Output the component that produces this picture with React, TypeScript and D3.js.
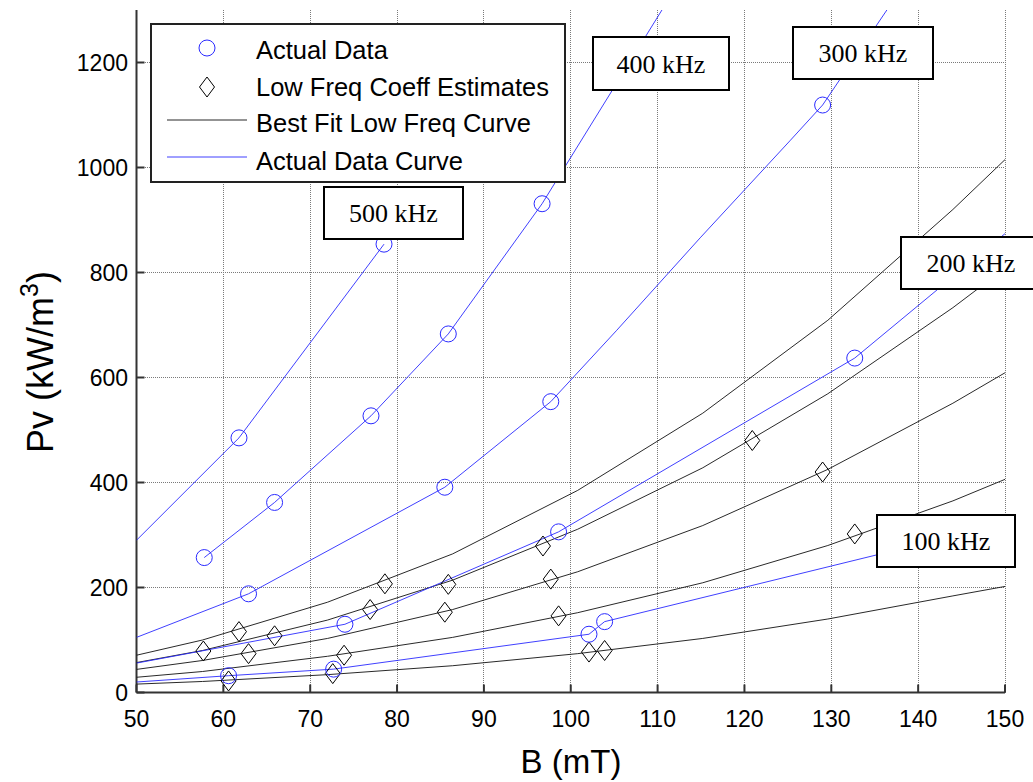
import React from 'react';
import * as d3 from 'd3';

// ---- data ----
const xTicks = [50, 60, 70, 80, 90, 100, 110, 120, 130, 140, 150];
const yTicks = [0, 200, 400, 600, 800, 1000, 1200];

// Best fit low-frequency curves (black), sampled B values
const fitB = [50, 57.6, 72, 86.4, 100.8, 115.2, 129.6, 144, 150];
const fit500 = [71, 100, 172, 264, 385, 532, 709, 920, 1015];
const fit400 = [57, 80, 138, 214, 311, 428, 569, 733, 808];
const fit300 = [44, 61, 103, 158, 230, 318, 425, 551, 609];
const fit200 = [29, 40, 69, 105, 152, 209, 280, 365, 406];
const fit100 = [16, 21, 34, 51, 74, 103, 140, 184, 202];

// Actual data curves (blue)
const act500B = [50, 61.8, 78.5];
const act500P = [290, 485, 854];
const act400B = [57.8, 65.9, 77.0, 85.9, 96.7, 110.5];
const act400P = [257, 362, 527, 683, 931, 1300];
const act300B = [50, 62.9, 85.5, 97.7, 105.3, 114.9, 125.3, 129.0, 136.4];
const act300P = [105, 188, 391, 554, 690, 866, 1052, 1119, 1300];
const act200B = [50, 74.0, 98.6, 132.7, 150];
const act200P = [56, 130, 306, 637, 874];
const act100B = [50, 60.6, 72.7, 102.1, 103.9, 135.2, 150];
const act100P = [20, 32, 44.5, 111, 135, 262, 322];

// Actual data points (circles)
const circB = [61.8, 78.5, 57.8, 65.9, 77.0, 85.9, 96.7, 62.9, 85.5, 97.7, 129.0, 74.0, 98.6, 132.7, 60.6, 72.7, 102.1, 103.9];
const circP = [485, 854, 257, 362, 527, 683, 931, 188, 391, 554, 1119, 130, 306, 637, 32, 44.5, 111, 135];

// Low freq coefficient estimates (diamonds)
const diaB = [57.7, 61.8, 62.9, 65.9, 60.6, 73.9, 72.6, 78.6, 76.9, 85.9, 85.5, 96.8, 97.7, 98.6, 102.1, 103.9, 120.9, 129.0, 132.7];
const diaP = [79, 116, 74, 108, 22, 71, 36, 207, 158, 206, 153, 279, 216, 146, 77, 80, 480, 420, 302];

const freqLabels = ['500 kHz', '400 kHz', '300 kHz', '200 kHz', '100 kHz'];
const legendLabels = ['Actual Data', 'Low Freq Coeff Estimates', 'Best Fit Low Freq Curve', 'Actual Data Curve'];

// ---- layout ----
const W = 1033, H = 782;
const X0 = 136.5, X1 = 1005, Y0 = 692.5, YT = 10;
const labelBoxes = [
  { x: 324, y: 187, w: 139, h: 52 },
  { x: 593, y: 37, w: 136, h: 53 },
  { x: 793, y: 27, w: 140, h: 52 },
  { x: 901, y: 237, w: 140, h: 52 },
  { x: 877, y: 515, w: 138, h: 52 },
];

const BLUE = '#2a2aff';

export default function App() {
  const x = d3.scaleLinear().domain([50, 150]).range([X0, X1]);
  const y = d3.scaleLinear().domain([0, 1300]).range([Y0, YT]);
  const line = d3.line<[number, number]>().x(d => x(d[0])).y(d => y(d[1]));
  const zip = (a: number[], b: number[]) => a.map((v, i) => [v, b[i]] as [number, number]);
  const snap = (v: number) => Math.round(v - 0.5) + 0.5;

  const fits = [fit500, fit400, fit300, fit200, fit100].map(p => zip(fitB, p));
  const acts = [
    zip(act500B, act500P), zip(act400B, act400P), zip(act300B, act300P),
    zip(act200B, act200P), zip(act100B, act100P),
  ];
  const sans = 'Arial, "Liberation Sans", Helvetica, sans-serif';
  const serif = '"Times New Roman", "Liberation Serif", Times, serif';

  const diamond = (cx: number, cy: number) =>
    `M${cx},${cy - 10}L${cx + 7.5},${cy}L${cx},${cy + 10}L${cx - 7.5},${cy}Z`;

  return (
    <svg width={W} height={H} style={{ position: 'absolute', left: 0, top: 0, background: '#fff' }}>
      <defs>
        <clipPath id="plotclip">
          <rect x={X0} y={YT} width={X1 - X0} height={Y0 - YT} />
        </clipPath>
      </defs>
      <rect x={0} y={0} width={W} height={H} fill="#fff" />
      {/* grid */}
      <g stroke="#7a7a7a" strokeWidth={1} strokeDasharray="1,1" shapeRendering="crispEdges">
        {xTicks.slice(1).map(t => (
          <line key={'gx' + t} x1={snap(x(t))} x2={snap(x(t))} y1={YT} y2={Y0} />
        ))}
        {yTicks.slice(1).map(t => (
          <line key={'gy' + t} x1={X0} x2={X1} y1={snap(y(t))} y2={snap(y(t))} />
        ))}
      </g>
      {/* axes */}
      <g stroke="#333" strokeWidth={2}>
        <line x1={X0} x2={X0} y1={YT} y2={Y0} />
        <line x1={X0} x2={X1} y1={Y0} y2={Y0} />
        {xTicks.map(t => (
          <line key={'tx' + t} x1={x(t)} x2={x(t)} y1={Y0} y2={Y0 - 8} />
        ))}
        {yTicks.map(t => (
          <line key={'ty' + t} x1={X0} x2={X0 + 8} y1={y(t)} y2={y(t)} />
        ))}
      </g>
      {/* tick labels */}
      <g fontFamily={sans} fontSize={23} fill="#000">
        {xTicks.map(t => (
          <text key={'lx' + t} x={x(t)} y={727} textAnchor="middle">{t}</text>
        ))}
        {yTicks.map(t => (
          <text key={'ly' + t} x={128} y={y(t) + 8} textAnchor="end">{t}</text>
        ))}
      </g>
      {/* axis titles */}
      <text x={571} y={773} textAnchor="middle" fontFamily={sans} fontSize={33}>B (mT)</text>
      <text transform={`translate(53,362) rotate(-90)`} textAnchor="middle" fontFamily={sans} fontSize={36}>
        Pv (kW/m<tspan dy={-15} fontSize={25}>3</tspan><tspan dy={15}>)</tspan>
      </text>
      {/* curves */}
      <g clipPath="url(#plotclip)" fill="none">
        {fits.map((d, i) => (
          <path key={'f' + i} d={line(d) || ''} stroke="#111" strokeWidth={0.9} />
        ))}
        {acts.map((d, i) => (
          <path key={'a' + i} d={line(d) || ''} stroke={BLUE} strokeWidth={0.9} />
        ))}
      </g>
      {/* markers */}
      <g fill="none">
        {diaB.map((b, i) => (
          <path key={'d' + i} d={diamond(x(b), y(diaP[i]))} stroke="#000" strokeWidth={1} />
        ))}
        {circB.map((b, i) => (
          <circle key={'c' + i} cx={x(b)} cy={y(circP[i])} r={8} stroke={BLUE} strokeWidth={1} />
        ))}
      </g>
      {/* frequency label boxes */}
      {labelBoxes.map((bx, i) => (
        <g key={'lb' + i}>
          <rect x={bx.x} y={bx.y} width={bx.w} height={bx.h} fill="#fff" stroke="#000" strokeWidth={2} />
          <text x={bx.x + bx.w / 2} y={bx.y + bx.h / 2 + 9} textAnchor="middle" fontFamily={serif} fontSize={26}>
            {freqLabels[i]}
          </text>
        </g>
      ))}
      {/* legend */}
      <g>
        <rect x={151} y={24} width={414} height={158} fill="#fff" stroke="#222" strokeWidth={2} />
        <circle cx={207} cy={48} r={8} fill="none" stroke={BLUE} strokeWidth={1} />
        <path d={diamond(207, 87)} fill="none" stroke="#000" strokeWidth={1} />
        <line x1={167} x2={247} y1={120} y2={120} stroke="#111" strokeWidth={0.9} />
        <line x1={167} x2={247} y1={157} y2={157} stroke={BLUE} strokeWidth={0.9} />
        {legendLabels.map((l, i) => (
          <text key={'lg' + i} x={256} y={[50, 87, 123, 161][i] + 9} fontFamily={sans} fontSize={25.5}>{l}</text>
        ))}
      </g>
    </svg>
  );
}
